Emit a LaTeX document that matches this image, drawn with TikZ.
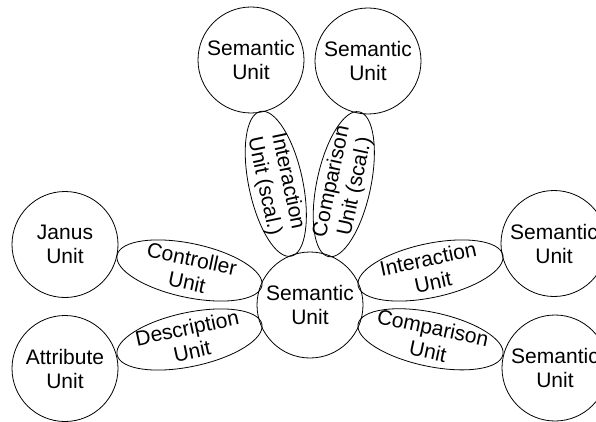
\documentclass[tikz,border=0pt]{standalone}
\usepackage{fontspec}
\setmainfont{Liberation Sans}
\usetikzlibrary{shapes.geometric}
\begin{document}
\begin{tikzpicture}[x=1pt,y=1pt,
  font=\fontsize{21}{24}\selectfont,
  unitcirc/.style={circle, draw, line width=0.8pt, minimum size=106pt, inner sep=0pt, align=center},
  unitell/.style={ellipse, draw, line width=0.8pt, minimum width=148pt, minimum height=54pt,
                  inner xsep=-25pt, inner ysep=-20pt, align=center}]
\useasboundingbox (0,0) rectangle (596,421);

% semantic and other units (circles)
\node[unitcirc] (semC)  at (310,116)   {Semantic\\Unit};
\node[unitcirc] (semTL) at (251,361)   {Semantic\\Unit};
\node[unitcirc] (semTR) at (368,360)   {Semantic\\Unit};
\node[unitcirc] (janus) at (65,176.5)  {Janus\\Unit};
\node[unitcirc] (attr)  at (65,52.5)   {Attribute\\Unit};
\node[unitcirc] (semE)  at (554,177.5) {Semantic\\Unit};
\node[unitcirc] (semSE) at (555,53)    {Semantic\\Unit};

% relating units (ellipses)
\node[unitell, rotate=-12] (ctrl)   at (189.5,150.5) {Controller\\Unit};
\node[unitell, rotate=12]  (desc)   at (189.5,81.5)  {Description\\Unit};
\node[unitell, rotate=12]  (inter)  at (430.5,150.5) {Interaction\\Unit};
\node[unitell, rotate=-12] (comp)   at (430.5,81.7)  {Comparison\\Unit};
\node[unitell, rotate=-78] (interS) at (275.8,237.2) {Interaction\\Unit (scal.)};
\node[unitell, rotate=78]  (compS)  at (343.8,236.8) {Comparison\\Unit (scal.)};
\end{tikzpicture}
\end{document}
